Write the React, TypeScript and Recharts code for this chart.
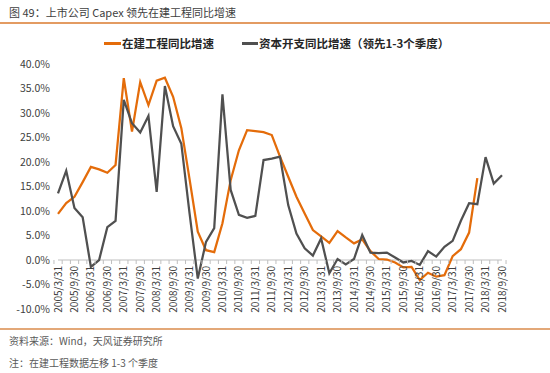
import React from "react";
import { LineChart, Line, XAxis, YAxis, ReferenceLine } from "recharts";

// quarterly dates, labels only shown for 3/31 and 9/30
const quarters: string[] = [
    "2005/3/31", "2005/6/30", "2005/9/30", "2005/12/31",
    "2006/3/31", "2006/6/30", "2006/9/30", "2006/12/31",
    "2007/3/31", "2007/6/30", "2007/9/30", "2007/12/31",
    "2008/3/31", "2008/6/30", "2008/9/30", "2008/12/31",
    "2009/3/31", "2009/6/30", "2009/9/30", "2009/12/31",
    "2010/3/31", "2010/6/30", "2010/9/30", "2010/12/31",
    "2011/3/31", "2011/6/30", "2011/9/30", "2011/12/31",
    "2012/3/31", "2012/6/30", "2012/9/30", "2012/12/31",
    "2013/3/31", "2013/6/30", "2013/9/30", "2013/12/31",
    "2014/3/31", "2014/6/30", "2014/9/30", "2014/12/31",
    "2015/3/31", "2015/6/30", "2015/9/30", "2015/12/31",
    "2016/3/31", "2016/6/30", "2016/9/30", "2016/12/31",
    "2017/3/31", "2017/6/30", "2017/9/30", "2017/12/31",
    "2018/3/31", "2018/6/30", "2018/9/30",
];

// 在建工程同比增速 (%)
const cipGrowth: (number | null)[] = [
    9.4, 11.6, 12.9, 15.9, 19.0, 18.5, 17.8, 19.4,
    37.1, 26.2, 36.3, 31.6, 36.6, 37.2, 33.3, 26.9,
    16.5, 5.8, 2.0, 1.6, 7.5, 16.3, 22.4, 26.5,
    26.3, 26.1, 25.5, 21.1, 17.0, 12.9, 9.5, 6.1,
    4.8, 3.5, 5.9, 4.6, 3.4, 4.2, 1.8, 0.2,
    0.1, -0.5, -1.5, -1.4, -4.1, -2.6, -3.4, -3.1,
    0.8, 2.2, 5.6, 16.7, null, null, null,
];

// 资本开支同比增速（领先1-3个季度）(%)
const capexGrowth: number[] = [
    13.6, 18.2, 10.6, 8.7, -1.4, 0.0, 6.7, 8.0,
    32.7, 27.9, 26.0, 29.4, 13.9, 35.5, 27.3, 23.7,
    9.5, -3.8, 3.7, 6.5, 33.8, 14.3, 9.2, 8.6,
    9.0, 20.4, 20.7, 21.1, 11.2, 5.4, 2.4, 0.9,
    4.4, -2.7, 0.2, -0.9, 0.2, 5.1, 1.5, 1.4,
    1.5, 0.5, -0.5, -0.2, -1.0, 1.8, 0.7, 2.7,
    3.9, 8.0, 11.6, 11.4, 21.0, 15.6, 17.3,
];

const yTicks = [-10, -5, 0, 5, 10, 15, 20, 25, 30, 35, 40];

const ORANGE = "#E46C0A";
const GREY = "#505050";
const FONT = '"Noto Sans CJK SC", "Noto Sans", sans-serif';

// layout
const W = 550;
const H = 373;
const PLOT_TOP = 64;
const PLOT_BOTTOM = 309;
const PLOT_LEFT = 58;
const PLOT_RIGHT = 502;
const ZERO_Y = 260;
const X_AXIS_H = 20;
const BAND = (PLOT_RIGHT - PLOT_LEFT) / quarters.length;

const data = quarters.map((q, i) => ({
    name: q,
    cip: cipGrowth[i],
    capex: capexGrowth[i],
}));

// axis sits on the 0% line in the original, so labels are drawn up there
const XTick = (props: any) => {
    const { x, index, payload } = props;
    const ty = ZERO_Y + 6;
    return (
        <g>
            <line x1={x - BAND / 2} x2={x - BAND / 2} y1={ZERO_Y} y2={ZERO_Y + 4} stroke="#BFBFBF" />
            {index === quarters.length - 1 && (
                <line x1={x + BAND / 2} x2={x + BAND / 2} y1={ZERO_Y} y2={ZERO_Y + 4} stroke="#BFBFBF" />
            )}
            {index % 2 === 0 && (
                <text
                    x={x}
                    y={ty}
                    dy="0.35em"
                    transform={`rotate(-90 ${x} ${ty})`}
                    textAnchor="end"
                    fontSize={10}
                    fill="#404040"
                    fontFamily={FONT}
                >
                    {payload.value}
                </text>
            )}
        </g>
    );
};

const fmt = (v: number) => v.toFixed(1) + "%";

export default function App() {
    return (
        <div style={{ position: "absolute", left: 0, top: 0, width: W, height: H, background: "#fff", fontFamily: FONT, overflow: "hidden" }}>
            <div style={{ position: "absolute", left: 9, top: 4, fontSize: 11, color: "#404040", whiteSpace: "nowrap" }}>
                图 49：上市公司 Capex 领先在建工程同比增速
            </div>
            <div style={{ position: "absolute", left: 0, top: 22, width: W, height: 2, background: "#E39B62" }} />

            <LineChart
                width={W}
                height={H}
                data={data}
                margin={{ top: PLOT_TOP, right: 0, left: 0, bottom: H - PLOT_BOTTOM - X_AXIS_H }}
                style={{ position: "absolute", left: 0, top: 0 }}
            >
                <XAxis
                    dataKey="name"
                    interval={0}
                    height={X_AXIS_H}
                    axisLine={false}
                    tickLine={false}
                    tick={<XTick />}
                />
                <YAxis
                    yAxisId="left"
                    orientation="left"
                    width={PLOT_LEFT}
                    domain={[-10, 40]}
                    ticks={yTicks}
                    tickFormatter={fmt}
                    axisLine={false}
                    tickLine={false}
                    tick={{ fontSize: 10.5, fill: "#404040", fontFamily: FONT }}
                />
                <YAxis
                    yAxisId="right"
                    orientation="right"
                    width={W - PLOT_RIGHT}
                    domain={[-10, 40]}
                    ticks={yTicks}
                    tickFormatter={fmt}
                    axisLine={false}
                    tickLine={false}
                    tickSize={4}
                    tick={{ fontSize: 10.5, fill: "#404040", fontFamily: FONT, textAnchor: "start" }}
                />
                <ReferenceLine yAxisId="left" y={0} stroke="#BFBFBF" strokeWidth={1} />
                <Line
                    yAxisId="left"
                    type="linear"
                    dataKey="cip"
                    stroke={ORANGE}
                    strokeWidth={2.25}
                    dot={false}
                    connectNulls={false}
                    isAnimationActive={false}
                />
                <Line
                    yAxisId="left"
                    type="linear"
                    dataKey="capex"
                    stroke={GREY}
                    strokeWidth={2.25}
                    dot={false}
                    isAnimationActive={false}
                />
            </LineChart>

            <div style={{ position: "absolute", left: 104, top: 35, display: "flex", alignItems: "center", fontSize: 11.5, fontWeight: 700, color: "#262626", whiteSpace: "nowrap" }}>
                <span style={{ display: "inline-block", width: 17, height: 3, background: ORANGE }} />
                <span style={{ marginLeft: 1 }}>在建工程同比增速</span>
                <span style={{ display: "inline-block", width: 16, height: 3, background: GREY, marginLeft: 28 }} />
                <span style={{ marginLeft: 1 }}>资本开支同比增速（领先1-3个季度）</span>
            </div>

            <div style={{ position: "absolute", left: 0, top: 328, width: W, height: 2, background: "#E3A878" }} />
            <div style={{ position: "absolute", left: 9, top: 333, fontSize: 10, color: "#595959", whiteSpace: "nowrap" }}>
                资料来源：Wind，天风证券研究所
            </div>
            <div style={{ position: "absolute", left: 9, top: 355, fontSize: 10, color: "#595959", whiteSpace: "nowrap" }}>
                注：在建工程数据左移 1-3 个季度
            </div>
        </div>
    );
}
